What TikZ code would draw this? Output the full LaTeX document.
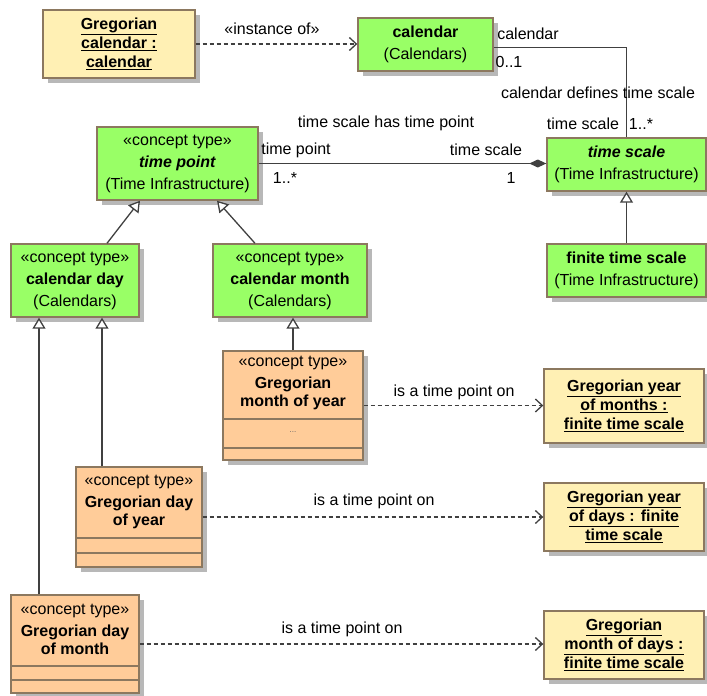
\documentclass[tikz,border=0pt]{standalone}
\usepackage{fontspec}
\setmainfont{Liberation Sans}
\usetikzlibrary{arrows.meta,positioning,shadows}

\definecolor{typegreen}{RGB}{153,255,102}
\definecolor{classorange}{RGB}{255,204,153}
\definecolor{objyellow}{RGB}{255,240,180}
\definecolor{boxedge}{RGB}{140,120,95}
\definecolor{lineclr}{RGB}{64,64,64}

\begin{document}
\begin{tikzpicture}[x=1pt,y=-1pt]
\tikzset{
  umlbox/.style={rectangle,draw=boxedge,line width=1.4pt,inner sep=2pt,align=center,
    font=\fontsize{16}{22}\selectfont,
    drop shadow={shadow xshift=5pt,shadow yshift=-5pt,fill=black!28,opacity=1}},
  typebox/.style={umlbox,fill=typegreen},
  classbox/.style={umlbox,fill=classorange},
  objbox/.style={umlbox,fill=objyellow,font=\fontsize{16}{19}\selectfont\bfseries},
  lbl/.style={inner sep=1pt,align=center,font=\fontsize{16}{22}\selectfont},
  divider/.style={draw=boxedge,line width=1.4pt},
  umlline/.style={draw=lineclr,line width=1.3pt},
  general/.style={umlline,-{Triangle[open,length=11pt,width=13pt,fill=white]}},
  depend/.style={umlline,dash pattern=on 4pt off 3pt,-{Straight Barb[length=7pt,width=13pt]}},
  compos/.style={umlline,-{Diamond[length=17pt,width=8pt]}}
}
\useasboundingbox (0,0) rectangle (707,696);

% types
\node[objbox,minimum width=152pt,minimum height=68pt] (n_gcal) at (119,44) {\underline{Gregorian}\\\underline{calendar :}\\\underline{calendar}};
\node[typebox,minimum width=135pt,minimum height=53pt] (n_cal) at (425.5,44.5) {\textbf{calendar}\\(Calendars)};
\node[typebox,minimum width=161pt,minimum height=73pt] (n_tp) at (177.5,163.5) {«concept type»\\\textbf{\textit{time point}}\\(Time Infrastructure)};
\node[typebox,minimum width=159pt,minimum height=53pt] (n_ts) at (626.5,164.5) {\textbf{\textit{time scale}}\\(Time Infrastructure)};
\node[typebox,minimum width=159pt,minimum height=53pt] (n_fts) at (626.5,270.5) {\textbf{finite time scale}\\(Time Infrastructure)};
\node[typebox,minimum width=128pt,minimum height=73pt] (n_cday) at (75,280.5) {«concept type»\\\textbf{calendar day}\\(Calendars)};
\node[typebox,minimum width=154pt,minimum height=73pt] (n_cmonth) at (290,280.5) {«concept type»\\\textbf{calendar month}\\(Calendars)};

% gregorian classes
\node[classbox,minimum width=140pt,minimum height=109pt] (n_gmoy) at (293,405.5) {};
\node[lbl] (t_gmoy) at (293,383) {«concept type»\\\textbf{Gregorian}\\[-4pt]\textbf{month of year}};
\node[lbl,font=\fontsize{8}{8}\selectfont,text=black!60] (t_gmoy_dots) at (293,432) {...};
\draw[divider] (n_gmoy.west |- 0,419) -- (n_gmoy.east |- 0,419);
\draw[divider] (n_gmoy.west |- 0,448) -- (n_gmoy.east |- 0,448);

\node[classbox,minimum width=126pt,minimum height=100pt] (n_gdoy) at (139,517) {};
\node[lbl] (t_gdoy) at (139,502) {«concept type»\\\textbf{Gregorian day}\\[-4pt]\textbf{of year}};
\draw[divider] (n_gdoy.west |- 0,538) -- (n_gdoy.east |- 0,538);
\draw[divider] (n_gdoy.west |- 0,553) -- (n_gdoy.east |- 0,553);

\node[classbox,minimum width=128pt,minimum height=98pt] (n_gdom) at (75,644) {};
\node[lbl] (t_gdom) at (75,629) {«concept type»\\\textbf{Gregorian day}\\[-4pt]\textbf{of month}};
\draw[divider] (n_gdom.west |- 0,666) -- (n_gdom.east |- 0,666);
\draw[divider] (n_gdom.west |- 0,680) -- (n_gdom.east |- 0,680);

% time scale instances
\node[objbox,minimum width=160pt,minimum height=74pt] (n_ymonths) at (624,406) {\underline{Gregorian year}\\\underline{of months :}\\\underline{finite time scale}};
\node[objbox,minimum width=160pt,minimum height=68pt] (n_ydays) at (624,517) {\underline{Gregorian year}\\\underline{of days : finite}\\\underline{time scale}};
\node[objbox,minimum width=160pt,minimum height=68pt] (n_mdays) at (624,645) {\underline{Gregorian}\\\underline{month of days :}\\\underline{finite time scale}};

% connectors
\draw[depend] (n_gcal.east) -- (n_gcal.east -| n_cal.west);
\draw[compos] (n_tp.east) -- (n_tp.east -| n_ts.west);
\draw[umlline] ([yshift=-3pt]n_cal.east) -| (n_ts.north);
\draw[general] (n_fts) -- (n_ts);
\draw[general] ([xshift=32pt]n_cday.north) -- ([xshift=-37.5pt]n_tp.south);
\draw[general] ([xshift=-35pt]n_cmonth.north) -- ([xshift=39.5pt]n_tp.south);
\draw[general] (n_gmoy.north) -- (n_gmoy.north |- n_cmonth.south);
\draw[general] ([xshift=-36pt]n_gdom.north) -- ([xshift=-36pt]n_cday.south);
\draw[general] ([xshift=-37pt]n_gdoy.north) -- ([xshift=27pt]n_cday.south);
\draw[depend] (n_gmoy.east) -- (n_gmoy.east -| n_ymonths.west);
\draw[depend] (n_gdoy.east) -- (n_gdoy.east -| n_ydays.west);
\draw[depend] (n_gdom.east) -- (n_gdom.east -| n_mdays.west);

% labels
\node[lbl] (l_inst) at (272,29) {«instance of»};
\node[lbl] (l_tshas) at (386,123) {time scale has time point};
\node[lbl] (l_tp) at (296,150) {time point};
\node[lbl] (l_tpmult) at (285,178) {1..*};
\node[lbl] (l_ts) at (486,150) {time scale};
\node[lbl] (l_tsmult) at (511,178) {1};
\node[lbl] (l_cal) at (528,34) {calendar};
\node[lbl] (l_calmult) at (509,62) {0..1};
\node[lbl] (l_caldef) at (598,93) {calendar defines time scale};
\node[lbl] (l_ts2) at (583,124) {time scale};
\node[lbl] (l_ts2mult) at (641,124) {1..*};
\node[lbl] (l_on1) at (454,392) {is a time point on};
\node[lbl] (l_on2) at (374,501) {is a time point on};
\node[lbl] (l_on3) at (342,629) {is a time point on};
\end{tikzpicture}
\end{document}
